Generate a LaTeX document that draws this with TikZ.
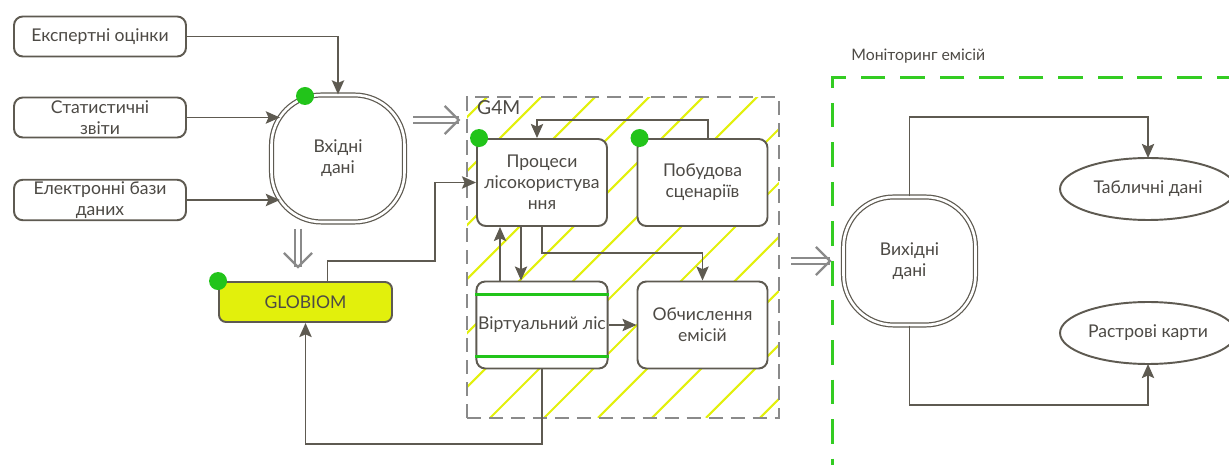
\documentclass[tikz,border=0pt]{standalone}
\usepackage{fontspec}
\setmainfont{Lato}
\usetikzlibrary{positioning,arrows.meta,calc,shapes.geometric,decorations.markings}
\definecolor{clrLinia}{HTML}{5E5A51}
\definecolor{clrTekst}{HTML}{4D4A45}
\definecolor{clrZelenyi}{HTML}{22C41A}
\definecolor{clrLymon}{HTML}{E2F00C}
\definecolor{clrSiryi}{HTML}{8A8A8A}
\definecolor{clrRamka}{HTML}{33CC22}

\begin{document}
\begin{tikzpicture}[
        x=0.02cm, y=-0.02cm,
        font=\fontsize{10}{12}\selectfont, text=clrTekst,
        blok/.style={rectangle, rounded corners=5pt, draw=clrLinia, line width=1.1pt, fill=white, align=center},
        dzherelo/.style={blok, minimum width=3.44cm, minimum height=0.8cm, inner sep=1pt},
        protses/.style={blok, minimum width=2.6cm, minimum height=1.74cm, inner sep=1pt},
        dani/.style={rectangle, rounded corners=1cm, draw=clrLinia, double, double distance=1.5pt, line width=0.7pt, fill=white, minimum width=2.66cm, minimum height=2.54cm, align=center},
        rezultat/.style={ellipse, draw=clrLinia, line width=1.1pt, fill=white, minimum width=3.52cm, minimum height=1.24cm, inner sep=0pt, outer sep=0pt},
        model/.style={blok, fill=clrLymon, rounded corners=4pt, minimum width=3.46cm, minimum height=0.8cm},
        potik/.style={-{Stealth[length=8pt, width=7pt, inset=1.5pt]}, line width=1.1pt, draw=clrLinia},
        perekhid/.style={double, double distance=2.2pt, line width=1pt, draw=clrSiryi,
            postaction={decorate, decoration={markings, mark=at position 1 with {
                \pgfsetlinewidth{1.3pt}\pgfsetstrokecolor{clrSiryi}\pgfsetmiterjoin
                \pgfpathmoveto{\pgfpoint{-8pt}{8pt}}
                \pgfpathlineto{\pgfpoint{0pt}{0pt}}
                \pgfpathlineto{\pgfpoint{-8pt}{-8pt}}
                \pgfusepath{stroke}}}}},
        tochka/.style={circle, fill=clrZelenyi, minimum size=0.36cm, inner sep=0pt},
        g4mramka/.style={rectangle, draw=clrSiryi, line width=1.4pt, dash pattern=on 8pt off 4.5pt,
            path picture={
                \foreach \k in {-7,...,6}
                    \draw[clrLymon, solid, line width=1.2pt] ([xshift=\k*1.08cm+0.46cm]path picture bounding box.south west) -- ++(7cm,7cm);
            }},
        ramkaMonitor/.style={rectangle, draw=clrRamka, line width=1.7pt, dash pattern=on 14pt off 8.5pt}
    ]
        \useasboundingbox (0,0) rectangle (1229,465);

        % Рамки G4M та моніторингу
        \node[g4mramka, minimum width=6.24cm, minimum height=6.42cm] (g4m) at (623,257.5) {};
        \node[anchor=north west, inner sep=0pt, font=\fontsize{11}{12}\selectfont] (g4mNapys) at ([xshift=0.22cm,yshift=-0.08cm]g4m.north west) {G4M};
        \node[ramkaMonitor, minimum width=8.56cm, minimum height=8.46cm] (monitor) at (1046,288.5) {};
        \node[anchor=west, inner sep=0pt, font=\fontsize{9}{10}\selectfont] (monitorNapys) at (851,56) {Моніторинг емісій};

        % Джерела даних
        \node[dzherelo] (ekspert) at (100,36.5) {Експертні оцінки};
        \node[dzherelo] (statzvit) at (100,117.5) {Статистичні\\звіти};
        \node[dzherelo] (bazy) at (100,200) {Електронні бази\\даних};
        \node[dani] (vkhid) at (338,158.5) {Вхідні\\дані};

        \draw[potik] (ekspert.east) -| (vkhid.north);
        \draw[potik] (statzvit.east) -- ([xshift=0.18cm]statzvit.east -| vkhid.west);
        \draw[potik] (bazy.east) -- ([xshift=0.18cm]bazy.east -| vkhid.west);

        % Моделі
        \node[model] (globiom) at (305.5,302) {GLOBIOM};
        \node[protses] (lisokor) at (542,182.5) {Процеси\\лісокористува\\ння};
        \node[protses] (stsenarii) at (702.5,182.5) {Побудова\\сценаріїв};
        \node[protses] (virtlis) at (542,325) {Віртуальний ліс};
        \node[protses] (emisii) at (702.5,325) {Обчислення\\емісій};
        \draw[clrZelenyi, line width=1.2pt] ([yshift=-0.28cm]virtlis.north west) -- ([yshift=-0.28cm]virtlis.north east);
        \draw[clrZelenyi, line width=1.2pt] ([yshift=0.26cm]virtlis.south west) -- ([yshift=0.26cm]virtlis.south east);

        \draw[perekhid] ([xshift=-0.15cm,yshift=-0.12cm]vkhid.south -| globiom.north) -- ([xshift=-0.15cm,yshift=0.28cm]globiom.north);
        \draw[perekhid] ([xshift=0.16cm,yshift=0.77cm]vkhid.east) -- ([xshift=-0.14cm,yshift=0.77cm]vkhid.east -| g4m.west);

        \draw[potik] ([xshift=0.44cm]globiom.north) -- ++(0,-20) -| ([xshift=-0.82cm]lisokor.west) -- (lisokor.west);
        \draw[potik] ([xshift=0.11cm]stsenarii.north) -- ++(0,-18) -| ([xshift=-0.1cm]lisokor.north);
        \draw[potik] ([xshift=-0.84cm]virtlis.north) -- ([xshift=-0.84cm]lisokor.south);
        \draw[potik] ([xshift=-0.42cm]lisokor.south) -- ([xshift=-0.42cm]virtlis.north);
        \draw[potik] (lisokor.south) -- ++(0,26) -| (emisii.north);
        \draw[potik] (virtlis.east) -- (emisii.west);
        \draw[potik] (virtlis.south) -- ++(0,75) -| (globiom.south);

        % Вихідні дані
        \node[dani, minimum width=2.64cm, minimum height=2.56cm] (vykhid) at (909.5,261) {Вихідні\\дані};
        \node[rezultat] (tablychni) at (1148,189) {Табличні дані};
        \node[rezultat] (rastrovi) at (1148,333) {Растрові карти};

        \draw[perekhid] ([xshift=0.22cm]g4m.east |- vykhid.west) -- ([xshift=-0.26cm]vykhid.west);
        \draw[potik] (vykhid.north) -- ++(0,-79) -| (tablychni.north);
        \draw[potik] (vykhid.south) -- ++(0,79) -| (rastrovi.south);

        % Зелені позначки
        \node[tochka] (tochkaVkhid) at (305,96) {};
        \node[tochka] (tochkaGlobiom) at (globiom.north west) {};
        \node[tochka] (tochkaLisokor) at ([xshift=0.06cm]lisokor.north west) {};
        \node[tochka] (tochkaStsenarii) at ([xshift=0.06cm]stsenarii.north west) {};
    \end{tikzpicture}
\end{document}
